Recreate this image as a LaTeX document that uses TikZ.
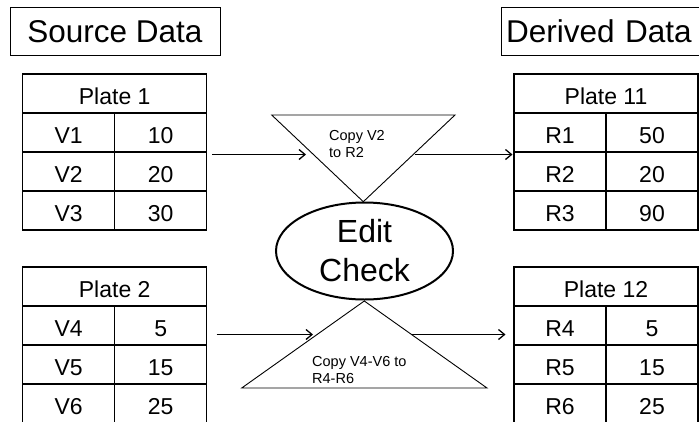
\documentclass[tikz,border=0pt]{standalone}
\usepackage{fontspec}
\setmainfont{Liberation Sans}
\usetikzlibrary{shapes.geometric,arrows.meta}

\tikzset{
  cell/.style={draw, line width=1.3pt, inner sep=0pt, outer sep=0pt,
    minimum width=92pt, minimum height=39pt,
    font=\fontsize{23}{27}\selectfont, text height=21pt, text depth=0pt},
  head/.style={cell, minimum width=184pt},
  titlebox/.style={draw, line width=0.9pt, inner sep=0pt, minimum height=48pt,
    font=\fontsize{31.5}{36}\selectfont, text height=22.5pt, text depth=0pt},
  funnel/.style={draw, line width=0.9pt, line join=miter},
  note/.style={font=\fontsize{14.5}{17}\selectfont, align=left, inner sep=0pt, anchor=north west},
  checkbox/.style={draw, ellipse, line width=2pt, inner sep=0pt,
    minimum width=177pt, minimum height=97pt, align=center,
    font=\fontsize{32}{39}\selectfont},
  arr/.style={line width=1.3pt, -{Straight Barb[length=6pt,width=10pt,line width=1.3pt]}}
}

\begin{document}
\begin{tikzpicture}[x=1pt,y=-1pt]
  \clip (0,0) rectangle (699,421);

  % headings
  \node[titlebox, minimum width=210pt] (src) at (115,31) {Source Data};
  \node[titlebox, anchor=west, minimum width=230pt, text width=220pt, align=left, inner xsep=5pt]
    (der) at (500.7,31) {Derived Data};

  % Plate 1
  \node[head] (p1) at (114.7,93.5) {Plate 1};
  \node[cell] (v1) at (68.7,132.5) {V1};  \node[cell] (v1n) at (160.7,132.5) {10};
  \node[cell] (v2) at (68.7,171.5) {V2};  \node[cell] (v2n) at (160.7,171.5) {20};
  \node[cell] (v3) at (68.7,210.5) {V3};  \node[cell] (v3n) at (160.7,210.5) {30};

  % Plate 2
  \node[head] (p2) at (114.7,286.5) {Plate 2};
  \node[cell] (v4) at (68.7,325.5) {V4};  \node[cell] (v4n) at (160.7,325.5) {5};
  \node[cell] (v5) at (68.7,364.5) {V5};  \node[cell] (v5n) at (160.7,364.5) {15};
  \node[cell] (v6) at (68.7,403.5) {V6};  \node[cell] (v6n) at (160.7,403.5) {25};

  % Plate 11
  \node[head] (p11) at (606,93.5) {Plate 11};
  \node[cell] (r1) at (560,132.5) {R1};  \node[cell] (r1n) at (652,132.5) {50};
  \node[cell] (r2) at (560,171.5) {R2};  \node[cell] (r2n) at (652,171.5) {20};
  \node[cell] (r3) at (560,210.5) {R3};  \node[cell] (r3n) at (652,210.5) {90};

  % Plate 12
  \node[head] (p12) at (606,286.5) {Plate 12};
  \node[cell] (r4) at (560,325.5) {R4};  \node[cell] (r4n) at (652,325.5) {5};
  \node[cell] (r5) at (560,364.5) {R5};  \node[cell] (r5n) at (652,364.5) {15};
  \node[cell] (r6) at (560,403.5) {R6};  \node[cell] (r6n) at (652,403.5) {25};

  % copy funnels around the edit check
  \coordinate (ta) at (271.7,115);
  \coordinate (tb) at (455,115);
  \coordinate (tc) at (363.3,201.7);
  \draw[funnel] (ta) -- (tb) -- (tc) -- cycle;

  \coordinate (ba) at (364.3,301);
  \coordinate (bb) at (487,388);
  \coordinate (bc) at (241.7,388);
  \draw[funnel] (ba) -- (bb) -- (bc) -- cycle;

  \node[checkbox] (edit) at (364.5,251) {Edit\\Check};

  \node[note] (copy1) at (329,130.5) {Copy V2\\to R2};
  \node[note] (copy2) at (312,356) {Copy V4-V6 to\\R4-R6};

  % connectors
  \coordinate (p1out)  at (212,154.5);
  \coordinate (t1in)   at (306,154.5);
  \coordinate (t1out)  at (414.5,154.5);
  \coordinate (p11in)  at (512.5,154.5);
  \coordinate (p2out)  at (216.7,334.5);
  \coordinate (t2in)   at (313,334.5);
  \coordinate (t2out)  at (410.5,334.5);
  \coordinate (p12in)  at (505.5,334.5);

  \draw[arr] (p1out) -- (t1in);
  \draw[arr] (t1out) -- (p11in);
  \draw[arr] (p2out) -- (t2in);
  \draw[arr] (t2out) -- (p12in);
\end{tikzpicture}
\end{document}
